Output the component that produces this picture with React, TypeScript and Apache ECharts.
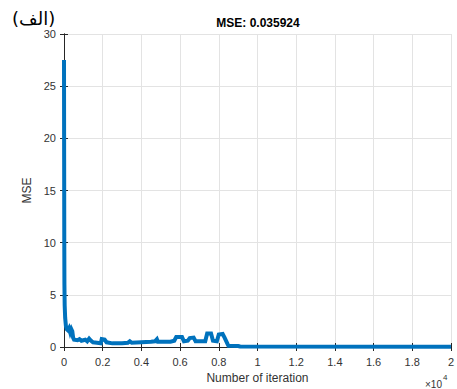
import React, { useEffect, useRef } from "react";
import * as echarts from "echarts";

// Training curve: iteration number vs. mean squared error
const iterations = [
  0, 8, 15, 22, 35, 60, 100, 140, 200, 260, 320, 380, 430, 470, 520, 700, 800, 900,
  1100, 1200, 1300, 1400, 1500, 1700, 1900, 1950, 2100, 2200, 2500, 3000, 3300, 3400,
  3500, 4000, 4500, 4700, 4800, 4850, 5500, 5700, 5800, 6100, 6200, 6400, 6500, 6700,
  6800, 7300, 7400, 7600, 7700, 7900, 8000, 8200, 8300, 8450, 8500, 9000, 9100, 20000,
];
const mse = [
  27.5, 18, 10, 6, 4, 2.8, 2.0, 1.7, 1.6, 1.8, 1.4, 1.7, 1.5, 0.9, 0.7, 0.65, 0.75, 0.6,
  0.7, 0.55, 0.8, 0.6, 0.45, 0.4, 0.35, 0.75, 0.7, 0.45, 0.35, 0.35, 0.4, 0.55,
  0.4, 0.45, 0.5, 0.55, 0.75, 0.5, 0.5, 0.6, 0.95, 0.95, 0.55, 0.6, 0.85, 0.9,
  0.55, 0.55, 1.3, 1.3, 0.6, 0.55, 1.2, 1.25, 0.9, 0.3, 0.12, 0.1, 0.05, 0.035924,
];
const finalMse = 0.035924;
const xTickStep = 2000;
const xMax = 20000;
const yMax = 30;
const yTickStep = 5;

const axisColor = "#262626";
const labelColor = "#333333";
const font = "'Liberation Sans', Arial, sans-serif";

export default function App() {
  const ref = useRef<HTMLDivElement>(null);

  useEffect(() => {
    if (!ref.current) return;
    const chart = echarts.init(ref.current, null, { renderer: "svg" });
    const tickCommon = {
      axisLine: { show: true, lineStyle: { color: axisColor, width: 1 } },
      axisTick: { show: true, inside: true, length: 4, lineStyle: { color: axisColor } },
    };
    chart.setOption({
      animation: false,
      backgroundColor: "#ffffff",
      grid: { left: 64, right: 5, top: 34, bottom: 41 },
      xAxis: [
        {
          type: "value",
          min: 0,
          max: xMax,
          interval: xTickStep,
          position: "bottom",
          ...tickCommon,
          axisLabel: {
            color: labelColor,
            fontFamily: font,
            fontSize: 11,
            margin: 9,
            formatter: (v: number) => String(+(v / 10000).toFixed(2)),
          },
          splitLine: { show: true, lineStyle: { color: "#e3e3e3", width: 1 } },
          name: "Number of iteration",
          nameLocation: "middle",
          nameGap: 25,
          nameTextStyle: { color: labelColor, fontFamily: font, fontSize: 12 },
        },
        {
          type: "value",
          min: 0,
          max: xMax,
          interval: xTickStep,
          position: "top",
          ...tickCommon,
          axisLabel: { show: false },
          splitLine: { show: false },
        },
      ],
      yAxis: [
        {
          type: "value",
          min: 0,
          max: yMax,
          interval: yTickStep,
          position: "left",
          ...tickCommon,
          axisLabel: { color: labelColor, fontFamily: font, fontSize: 11, margin: 8 },
          splitLine: { show: true, lineStyle: { color: "#e3e3e3", width: 1 } },
          name: "MSE",
          nameLocation: "middle",
          nameGap: 22,
          nameTextStyle: { color: labelColor, fontFamily: font, fontSize: 12 },
        },
        {
          type: "value",
          min: 0,
          max: yMax,
          interval: yTickStep,
          position: "right",
          ...tickCommon,
          axisLabel: { show: false },
          splitLine: { show: false },
        },
      ],
      graphic: [
        {
          type: "text",
          x: 258,
          y: 23,
          style: {
            text: `MSE: ${finalMse}`,
            fontFamily: font,
            fontSize: 12,
            fontWeight: "bold",
            fill: "#000",
            textAlign: "center",
            textVerticalAlign: "middle",
          },
        },
        {
          type: "text",
          x: 12,
          y: 18,
          style: {
            text: "(الف)",
            fontFamily: "'DejaVu Sans', sans-serif",
            fontSize: 18,
            fill: "#000",
            textAlign: "left",
            textVerticalAlign: "middle",
          },
        },
        {
          type: "text",
          x: 425,
          y: 384,
          style: {
            text: "×10",
            fontFamily: font,
            fontSize: 10,
            fill: labelColor,
            textVerticalAlign: "middle",
          },
        },
        {
          type: "text",
          x: 443,
          y: 377,
          style: {
            text: "4",
            fontFamily: font,
            fontSize: 8,
            fill: labelColor,
            textVerticalAlign: "middle",
          },
        },
      ],
      series: [
        {
          type: "line",
          data: iterations.map((it, i) => [it, mse[i]]),
          showSymbol: false,
          symbol: "none",
          clip: true,
          lineStyle: { color: "#0072BD", width: 4, join: "miter" },
        },
      ],
    });
    return () => chart.dispose();
  }, []);

  return (
    <div
      ref={ref}
      style={{ position: "absolute", left: 0, top: 0, width: 457, height: 389 }}
    />
  );
}
